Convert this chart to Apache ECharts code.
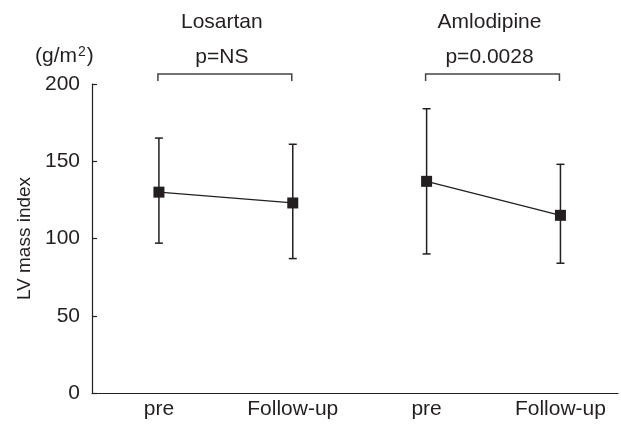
<!DOCTYPE html>
<html>
<head>
<meta charset="utf-8">
<script src="https://cdn.jsdelivr.net/npm/echarts@6/dist/echarts.min.js"></script>
<style>
html, body { margin: 0; padding: 0; background: #fff; }
#chart { width: 621px; height: 426px; }
</style>
</head>
<body>
<div id="chart"></div>
<script>
// 横轴分类和位置
var categories = ['pre', 'Follow-up', 'pre', 'Follow-up'];
var positions = [1, 2, 3, 4];
// 分组名称和 p 值
var groups = ['Losartan', 'Amlodipine'];
var pValues = ['p=NS', 'p=0.0028'];
var groupPairs = [[1, 2], [3, 4]];
// 均值和误差线上下限
var means = [130, 123, 137, 115];
var upper = [165, 161, 184, 148];
var lower = [97, 87, 90, 84];
var yTicks = [0, 50, 100, 150, 200];

var ink = '#231f20';
var font = "'Liberation Sans', Arial, sans-serif";

var chart = echarts.init(document.getElementById('chart'));

// 误差线数据 [x, 下限, 上限]
var errData = positions.map(function (p, i) { return [p, lower[i], upper[i]]; });
// 每组两点连线
var lineData = groupPairs.map(function (pair) {
  return pair.map(function (p) { return [p, means[p - 1]]; });
});

var option = {
  animation: false,
  grid: { left: 92, right: 3, top: 84, bottom: 33, outerBoundsMode: 'none' },
  xAxis: {
    type: 'value',
    min: 0.5,
    max: 4.43,
    interval: 0.5,
    splitLine: { show: false },
    axisTick: { show: false },
    axisLine: { lineStyle: { color: ink, width: 1.2 } },
    axisLabel: {
      color: ink, fontFamily: font, fontSize: 21, margin: 6,
      showMinLabel: true, showMaxLabel: true,
      formatter: function (v) {
        return Number.isInteger(v) ? categories[v - 1] : '';
      }
    }
  },
  yAxis: {
    type: 'value',
    min: yTicks[0],
    max: yTicks[yTicks.length - 1],
    interval: 50,
    name: 'LV mass index',
    nameLocation: 'middle',
    nameRotate: 90,
    nameGap: 57,
    nameTextStyle: { color: ink, fontFamily: font, fontSize: 19 },
    splitLine: { show: false },
    axisLine: { show: true, lineStyle: { color: ink, width: 1.2 } },
    axisTick: { show: true, inside: true, length: 5, lineStyle: { color: ink, width: 1.2 } },
    axisLabel: { color: ink, fontFamily: font, fontSize: 21, margin: 12 }
  },
  graphic: [{
    type: 'text',
    left: 35,
    top: 45,
    style: {
      text: '(g/m{sup|2})',
      fill: ink,
      font: '21px ' + font,
      rich: { sup: { fontSize: 14, verticalAlign: 'top', padding: [0, 1, 9, 1], fill: ink, fontFamily: font } }
    }
  }],
  series: [
    {
      type: 'custom',
      name: 'sd',
      data: errData,
      z: 2,
      renderItem: function (params, api) {
        var top = api.coord([api.value(0), api.value(2)]);
        var bot = api.coord([api.value(0), api.value(1)]);
        var cap = 4;
        var st = { stroke: ink, lineWidth: 1.5 };
        return {
          type: 'group',
          children: [
            { type: 'line', shape: { x1: top[0], y1: top[1], x2: bot[0], y2: bot[1] }, style: st },
            { type: 'line', shape: { x1: top[0] - cap, y1: top[1], x2: top[0] + cap, y2: top[1] }, style: st },
            { type: 'line', shape: { x1: bot[0] - cap, y1: bot[1], x2: bot[0] + cap, y2: bot[1] }, style: st }
          ]
        };
      }
    },
    {
      type: 'line',
      name: groups[0],
      data: lineData[0],
      z: 3,
      symbol: 'rect',
      symbolSize: 11,
      itemStyle: { color: ink },
      lineStyle: { color: ink, width: 1.3 }
    },
    {
      type: 'line',
      name: groups[1],
      data: lineData[1],
      z: 3,
      symbol: 'rect',
      symbolSize: 11,
      itemStyle: { color: ink },
      lineStyle: { color: ink, width: 1.3 }
    },
    {
      // 顶部括号和组名
      type: 'custom',
      name: 'bracket',
      clip: false,
      silent: true,
      data: groupPairs.map(function (pair, i) { return [pair[0], pair[1], i]; }),
      renderItem: function (params, api) {
        var a = api.coord([api.value(0), 200]);
        var b = api.coord([api.value(1), 200]);
        var i = api.value(2);
        var x1 = a[0] - 1, x2 = b[0] - 1;
        var yTop = a[1] - 10, yEnd = a[1] - 3;
        var cx = (x1 + x2) / 2 - 3;
        return {
          type: 'group',
          children: [
            {
              type: 'polyline',
              shape: { points: [[x1, yEnd], [x1, yTop], [x2, yTop], [x2, yEnd]] },
              style: { stroke: '#444', lineWidth: 1.5, fill: null }
            },
            {
              type: 'text',
              style: { text: pValues[i], x: cx, y: a[1] - 27, align: 'center', verticalAlign: 'middle', fill: ink, font: '21px ' + font }
            },
            {
              type: 'text',
              style: { text: groups[i], x: cx, y: a[1] - 62, align: 'center', verticalAlign: 'middle', fill: ink, font: '21px ' + font }
            }
          ]
        };
      }
    }
  ]
};

chart.setOption(option);
</script>
</body>
</html>
